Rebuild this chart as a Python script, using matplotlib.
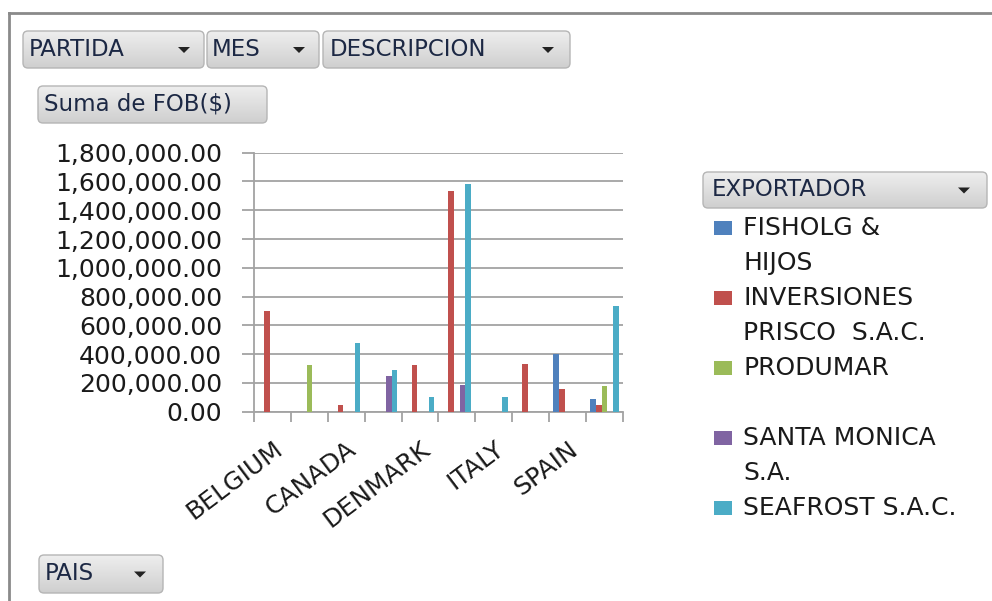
import numpy as np
import matplotlib
matplotlib.use("Agg")
import matplotlib.pyplot as plt
from matplotlib.patches import FancyBboxPatch, Rectangle, Polygon
from matplotlib.colors import LinearSegmentedColormap

# -----------------------------
# Data
# -----------------------------

paises = ["BELGIUM", "", "CANADA", "", "DENMARK", "", "ITALY", "", "SPAIN", ""]

exportadores = [
    "FISHOLG & HIJOS",
    "INVERSIONES PRISCO  S.A.C.",
    "PRODUMAR",
    "SANTA MONICA S.A.",
    "SEAFROST S.A.C.",
]

# legend text as wrapped in the pivot chart
legend_lines = [
    ["FISHOLG &", "HIJOS"],
    ["INVERSIONES", "PRISCO  S.A.C."],
    ["PRODUMAR", ""],
    ["SANTA MONICA", "S.A."],
    ["SEAFROST S.A.C."],
]

fisholg = [0, 0, 0, 0, 0, 0, 0, 0, 403000, 86000]
inversiones = [700000, 0, 46000, 0, 322000, 1536000, 0, 331000, 158000, 46000]
produmar = [0, 322000, 0, 0, 0, 0, 0, 0, 0, 176000]
santa_monica = [0, 0, 0, 250000, 0, 183000, 0, 0, 0, 0]
seafrost = [0, 0, 480000, 287000, 102000, 1583000, 102000, 0, 0, 737000]

series = [fisholg, inversiones, produmar, santa_monica, seafrost]
colores = ["#4F81BD", "#C0504D", "#9BBB59", "#8064A2", "#4BACC6"]

y_ticks = np.arange(0, 1800001, 200000)

# -----------------------------
# Figure
# -----------------------------

W, H = 992, 601
fig = plt.figure(figsize=(W / 100, H / 100), dpi=100)
fig.patch.set_facecolor("white")

grid_col = "#a3a3a3"
txt_col = "#1a1a1a"
btn_txt = "#1c2844"

# background axes in pixel coords (origin top-left) for buttons / legend
bg = fig.add_axes([0, 0, 1, 1])
bg.set_xlim(0, W)
bg.set_ylim(H, 0)
bg.axis("off")

# outer border of the pivot chart
bg.plot([9, 9], [13, H], color="#8a8a8a", lw=2)
bg.plot([9, W], [13, 13], color="#8a8a8a", lw=2)

# -----------------------------
# Bars
# -----------------------------

ax = fig.add_axes([254 / W, 1 - 411.7 / H, 369 / W, 259 / H])

x = np.arange(len(paises))
w = 1 / 6.5

for i, vals in enumerate(series):
    ax.bar(x + (i - 2) * w, vals, width=w, color=colores[i],
           linewidth=0, zorder=3, label=exportadores[i])

ax.set_xlim(-0.5, len(paises) - 0.5)
ax.set_ylim(0, 1800000)
ax.set_yticks(y_ticks)
ax.set_yticklabels(["{:,.2f}".format(v) for v in y_ticks])

ax.set_xticks(np.arange(-0.5, len(paises)), labels=[""] * (len(paises) + 1))
ax.set_xticks(x, labels=paises, minor=True)
ax.tick_params(axis="x", which="major", length=7, width=1.3, color=grid_col)
ax.tick_params(axis="x", which="minor", length=0, pad=18, labelsize=18,
               labelcolor=txt_col)
plt.setp(ax.get_xticklabels(minor=True), rotation=37, ha="right",
         va="top", rotation_mode="anchor")

ax.tick_params(axis="y", length=9, width=1.3, color=grid_col, pad=14,
               labelsize=18, labelcolor=txt_col)

ax.yaxis.grid(True, color=grid_col, lw=1.3, zorder=0)
ax.set_axisbelow(True)
for s in ["top", "right"]:
    ax.spines[s].set_visible(False)
for s in ["left", "bottom"]:
    ax.spines[s].set_color(grid_col)
    ax.spines[s].set_linewidth(1.3)

# -----------------------------
# Field buttons
# -----------------------------

grad = LinearSegmentedColormap.from_list("btn", ["#eeeeee", "#cfcfcf"])
grad_img = np.linspace(0, 1, 64).reshape(-1, 1)


def button(x0, y0, x1, y1, label, tx, arrow_x=None):
    box = FancyBboxPatch((x0, y0), x1 - x0, y1 - y0,
                         boxstyle="round,pad=0,rounding_size=5",
                         fc="none", ec="#b5b5b5", lw=1, zorder=3)
    bg.add_patch(box)
    img = bg.imshow(grad_img, cmap=grad, extent=(x0, x1, y1, y0),
                    aspect="auto", zorder=2, interpolation="bilinear")
    img.set_clip_path(box)
    yc = (y0 + y1) / 2
    bg.text(tx, yc, label, va="center", ha="left", fontsize=16.5,
            color=btn_txt, zorder=4)
    if arrow_x is not None:
        bg.add_patch(Polygon([(arrow_x - 6, yc - 2.5), (arrow_x + 6, yc - 2.5),
                              (arrow_x, yc + 3.5)], closed=True,
                             fc="#222222", ec="none", zorder=4))


button(23, 31, 204, 68, "PARTIDA", 29, 184)
button(207, 31, 319, 68, "MES", 212, 299)
button(323, 31, 570, 68, "DESCRIPCION", 330, 548)
button(38, 86, 267, 123, "Suma de FOB($)", 44)
button(703, 172, 987, 208, "EXPORTADOR", 712, 964)
button(39, 555, 163, 593, "PAIS", 45, 140)

bg.set_xlim(0, W)
bg.set_ylim(H, 0)

# -----------------------------
# Legend
# -----------------------------

line_y = 228
step = 35
for i, lines in enumerate(legend_lines):
    bg.add_patch(Rectangle((714, line_y - 7), 18, 14, fc=colores[i], ec="none"))
    for ln in lines:
        bg.text(743, line_y, ln, va="center", ha="left",
                fontsize=18, color=txt_col)
        line_y += step

fig.savefig("out.png", dpi=100)
